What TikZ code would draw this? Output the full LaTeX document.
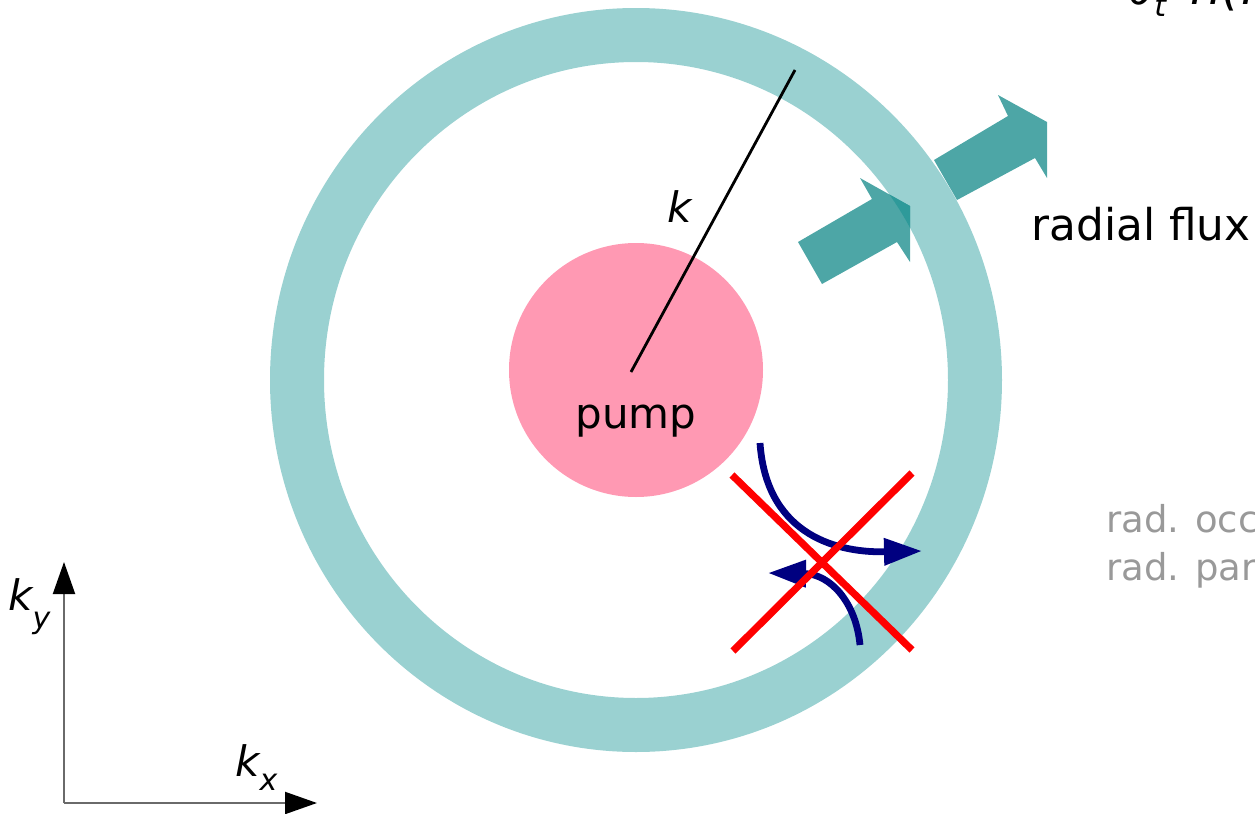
\documentclass[tikz,border=0pt]{standalone}
\usepackage{fontspec}
\setmainfont{DejaVu Sans}
\usetikzlibrary{arrows.meta}
\definecolor{ringc}{HTML}{9AD1D1}
\definecolor{fluxc}{HTML}{4DA6A6}
\definecolor{overc}{HTML}{2E9A9A}
\definecolor{pumpc}{HTML}{FF99B3}
\definecolor{navyc}{HTML}{000080}
\definecolor{greyc}{HTML}{999999}
\definecolor{axisc}{HTML}{6A6A6A}
\tikzset{
  ringstyle/.style={draw=ringc, line width=27pt},
  fluxarrow/.style={fill=fluxc, draw=none},
  crossline/.style={draw=red, line width=3.6pt},
  blueflow/.style={draw=navyc, line width=3.4pt, -{Triangle[length=19pt,width=13pt]}},
  axisline/.style={draw=axisc, line width=1pt, -{Triangle[length=16pt,width=11pt,fill=black,color=black]}},
  bigtext/.style={font=\fontsize{21pt}{25pt}\selectfont, inner sep=0pt},
  greytext/.style={font=\fontsize{18.5pt}{23pt}\selectfont, text=greyc, inner sep=0pt, align=left},
}
\begin{document}
\begin{tikzpicture}[x=0.5pt,y=-0.5pt]
\useasboundingbox (0,0) rectangle (1255,814);
\clip (0,0) rectangle (1255,814);
% ring
\draw[ringstyle] (636,380) ellipse [x radius=339, y radius=345];
% pump
\node[circle, fill=pumpc, minimum size=127pt, inner sep=0pt] (pump) at (636,370) {};
\node[bigtext, anchor=base] (pumplabel) at (636,428) {pump};
% k line
\coordinate (kend) at (795,70);
\coordinate (kstart) at (631,372);
\draw[line width=1.4pt] (kstart) -- (kend);
\node[bigtext, anchor=base] (klabel) at (680,222) {\itshape k};
% flux arrow 1
\path[fluxarrow] (822,284) -- (798,242) -- (872,199) -- (860,178) -- (910,206) -- (910,262) -- (897,242) -- cycle;
\begin{scope}
\clip (822,284) -- (798,242) -- (872,199) -- (860,178) -- (910,206) -- (910,262) -- (897,242) -- cycle;
\draw[draw=overc, line width=27pt] (636,380) ellipse [x radius=339, y radius=345];
\end{scope}
% flux arrow 2
\path[fluxarrow] (957,200) -- (934,160) -- (1008,116) -- (998,95) -- (1047,122) -- (1047,178) -- (1035,158) -- cycle;
\node[bigtext, font=\fontsize{21.9pt}{26pt}\selectfont, anchor=base west] (flux) at (1031,240) {radial flux};
% grey text
\node[greytext, anchor=base west] (occ) at (1106,532) {rad. occ};
\node[greytext, anchor=base west] (par) at (1106,580) {rad. par};
% top formula (cut)
\node[font=\fontsize{25pt}{30pt}\selectfont\itshape, inner sep=0pt, anchor=base west] (formula) at (1128,4) {∂\raisebox{-0.25em}{\fontsize{15pt}{18pt}\selectfont t} \,n(k};
% blue arrows
\coordinate (a1s) at (760,443);
\coordinate (a1e) at (922,551);
\coordinate (a2s) at (860,645);
\coordinate (a2e) at (768,573);
\draw[blueflow] (a1s) .. controls (766,530) and (830,553) .. (a1e);
\draw[blueflow] (a2s) .. controls (856,602) and (830,574) .. (a2e);
% red cross
\coordinate (x1) at (732,475);
\coordinate (x2) at (912,650);
\coordinate (x3) at (912,473);
\coordinate (x4) at (733,651);
\draw[crossline] (x1) -- (x2);
\draw[crossline] (x3) -- (x4);
% axes
\coordinate (origin) at (64,803);
\coordinate (ytip) at (64,562);
\coordinate (xtip) at (317,803);
\draw[axisline] (origin) -- (ytip);
\draw[axisline] (origin) -- (xtip);
\node[bigtext, anchor=base west] (ky) at (8,610) {\itshape k\raisebox{-0.45em}{\fontsize{15pt}{18pt}\selectfont y}};
\node[bigtext, anchor=base west] (kx) at (235,776) {\itshape k\raisebox{-0.35em}{\fontsize{15pt}{18pt}\selectfont x}};
\end{tikzpicture}
\end{document}
